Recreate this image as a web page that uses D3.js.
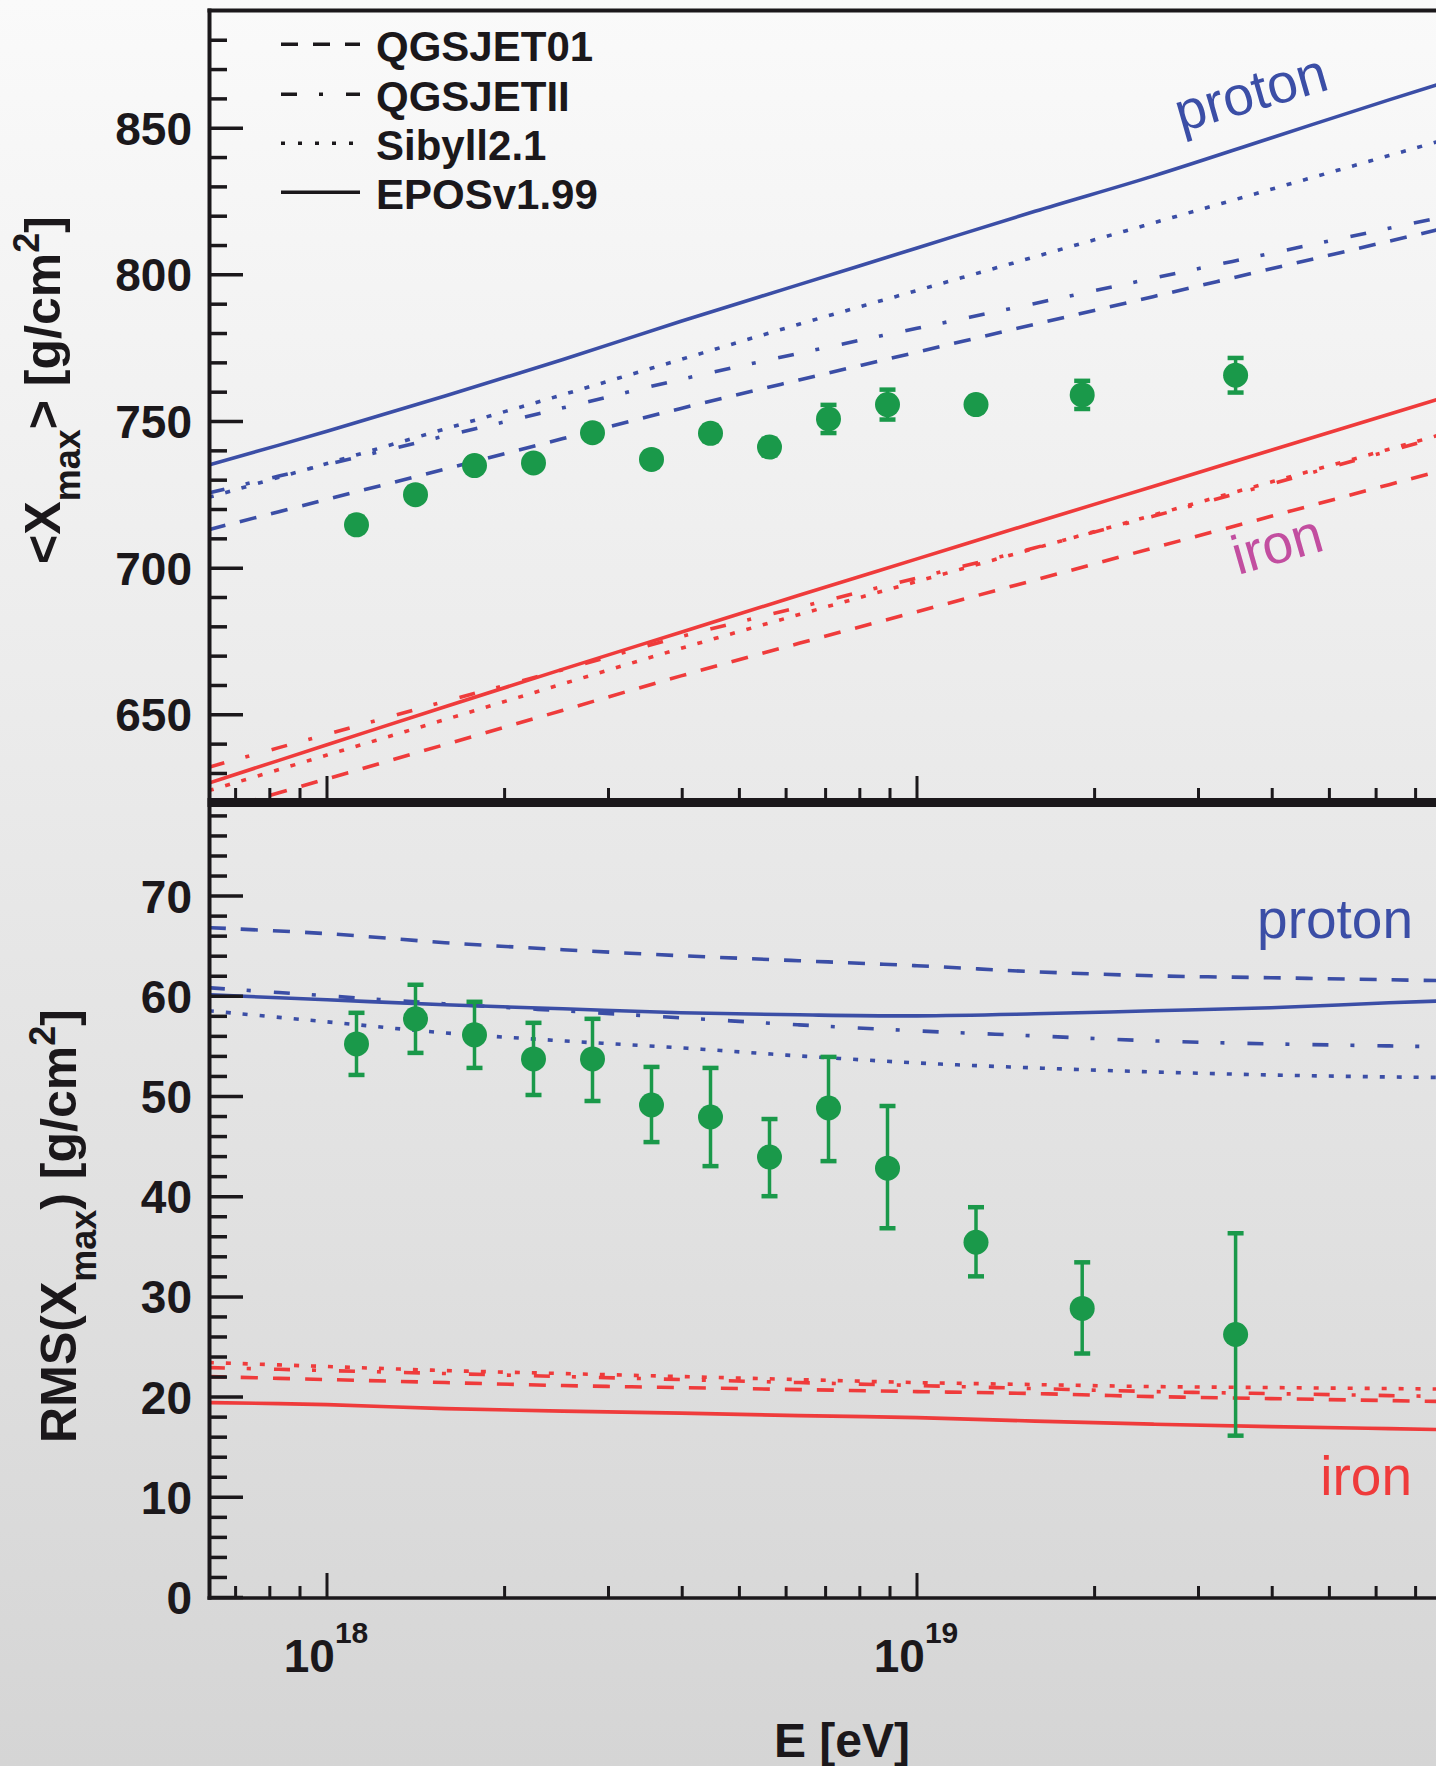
<!DOCTYPE html>
<html><head><meta charset="utf-8">
<script src="https://cdn.jsdelivr.net/npm/d3@7"></script>
<style>html,body{margin:0;padding:0;background:#e6e6e6;} svg{display:block;}</style>
</head><body>
<svg id="chart" width="1436" height="1766"></svg>
<script>
// ---------- data ----------
const modelLogE = [17.8, 18.0, 18.2, 18.4, 18.6, 18.8, 19.0, 19.2, 19.4, 19.6, 19.8, 20.0];

// <Xmax> predictions [g/cm2]
const pXmaxQGSJET01 = [713.0, 723.3, 733.6, 744.0, 754.3, 764.0, 773.5, 783.0, 792.4, 801.9, 811.3, 820.8];
const pXmaxQGSJETII = [725.5, 735.2, 744.9, 754.5, 764.2, 773.1, 781.6, 790.1, 798.7, 807.2, 815.7, 824.2];
const pXmaxSibyll   = [724.0, 735.5, 747.3, 759.0, 771.0, 783.0, 794.5, 806.0, 817.5, 829.0, 840.5, 852.0];
const pXmaxEPOS     = [735.0, 746.5, 758.5, 771.0, 784.0, 796.5, 809.0, 821.5, 833.5, 846.5, 859.5, 872.0];
const feXmaxQGSJET01 = [616.3, 628.0, 639.7, 651.4, 663.1, 674.2, 685.0, 695.8, 706.7, 717.5, 728.3, 739.0];
const feXmaxQGSJETII = [632.0, 643.2, 654.4, 665.2, 676.5, 686.5, 696.5, 706.8, 717.5, 728.5, 739.8, 750.5];
const feXmaxSibyll   = [624.0, 636.1, 648.2, 660.4, 672.5, 684.0, 695.3, 706.6, 717.9, 729.2, 740.4, 751.7];
const feXmaxEPOS     = [626.6, 639.6, 652.6, 665.4, 678.0, 690.6, 703.0, 715.4, 727.7, 740.0, 752.3, 764.6];

// RMS(Xmax) predictions [g/cm2]
const pRmsQGSJET01 = [66.8, 66.2, 65.3, 64.6, 64.0, 63.5, 63.0, 62.4, 62.0, 61.8, 61.6, 61.4];
const pRmsQGSJETII = [60.8, 60.0, 59.2, 58.5, 57.8, 57.1, 56.5, 56.0, 55.5, 55.2, 55.0, 54.8];
const pRmsSibyll   = [58.5, 57.4, 56.3, 55.5, 54.8, 54.0, 53.3, 52.8, 52.4, 52.1, 51.9, 51.8];
const pRmsEPOS     = [60.1, 59.6, 59.1, 58.7, 58.3, 58.1, 58.0, 58.2, 58.5, 58.8, 59.3, 59.7];
const feRmsQGSJET01 = [22.0, 21.7, 21.4, 21.1, 20.9, 20.7, 20.5, 20.3, 20.0, 19.8, 19.6, 19.4];
const feRmsQGSJETII = [22.9, 22.6, 22.3, 22.0, 21.7, 21.4, 21.1, 20.8, 20.5, 20.3, 20.1, 19.9];
const feRmsSibyll   = [23.4, 23.0, 22.6, 22.3, 22.0, 21.7, 21.4, 21.2, 21.0, 20.9, 20.8, 20.7];
const feRmsEPOS     = [19.4, 19.2, 18.8, 18.55, 18.35, 18.1, 17.9, 17.55, 17.25, 17.0, 16.8, 16.6];

// measured data
const dataLogE = [18.05, 18.15, 18.25, 18.35, 18.45, 18.55, 18.65, 18.75, 18.85, 18.95, 19.10, 19.28, 19.54];
const xmaxMean = [714.6, 724.9, 734.8, 735.7, 746.0, 736.9, 745.8, 741.1, 750.7, 755.6, 755.6, 758.9, 765.6];
const xmaxErr  = [2.6, 2.5, 2.4, 2.4, 2.5, 2.6, 2.7, 2.8, 4.8, 5.1, 2.6, 4.8, 5.9];
const rmsValue = [55.2, 57.7, 56.1, 53.7, 53.7, 49.1, 47.9, 43.9, 48.8, 42.8, 35.4, 28.8, 26.2];
const rmsHigh  = [58.3, 61.1, 59.4, 57.3, 57.7, 52.9, 52.8, 47.7, 53.9, 49.0, 38.9, 33.4, 36.3];
const rmsLow   = [52.1, 54.3, 52.8, 50.1, 49.5, 45.4, 43.0, 40.0, 43.5, 36.8, 32.0, 24.3, 16.1];

// ticks and labels
const legendLabels = ["QGSJET01", "QGSJETII", "Sibyll2.1", "EPOSv1.99"];
const yTopMajor = [650, 700, 750, 800, 850];
const yTopMinor = d3.range(630, 890, 10).filter(v => v % 50 !== 0);
const yBotMajor = [0, 10, 20, 30, 40, 50, 60, 70];
const yBotMinor = d3.range(2, 80, 2).filter(v => v % 10 !== 0);
const xMajor = [1e18, 1e19];
const xMajorExp = ["18", "19"];
const xMinor = [7e17, 8e17, 9e17, 2e18, 3e18, 4e18, 5e18, 6e18, 7e18, 8e18, 9e18, 2e19, 3e19, 4e19, 5e19, 6e19, 7e19, 8e19, 9e19];

// ---------- drawing ----------
const W = 1436, H = 1766;
const BLUE = "#3b4ea6", RED = "#ef3b3b", GREEN = "#1a994a", IRON = "#c24ea0", INK = "#1b181b";
const FONT = "'Liberation Sans', Arial, Helvetica, sans-serif";
const dashes = { QGSJET01: "17,15", QGSJETII: "16,22,4,23", Sibyll: "5,12", EPOS: null };

const svg = d3.select("#chart");
const defs = svg.append("defs");
const grad = defs.append("linearGradient").attr("id", "bg").attr("x1", 0).attr("y1", 0).attr("x2", 0).attr("y2", 1);
grad.append("stop").attr("offset", "0%").attr("stop-color", "#fafafa");
grad.append("stop").attr("offset", "100%").attr("stop-color", "#d5d5d5");
svg.append("rect").attr("width", W).attr("height", H).attr("fill", "url(#bg)");

defs.append("clipPath").attr("id", "clipTop").append("rect").attr("x", 211).attr("y", 12).attr("width", W - 211).attr("height", 786);
defs.append("clipPath").attr("id", "clipBot").append("rect").attr("x", 211).attr("y", 807).attr("width", W - 211).attr("height", 789);

const x = d3.scaleLog().domain([Math.pow(10, 17.8), 1e20]).range([209, 1507]);
const yT = d3.scaleLinear().domain([620, 890]).range([802.3, 10.4]);
const yB = d3.scaleLinear().domain([0, 79]).range([1597, 805.4]);

function drawModels(g, yScale, sets) {
  const line = d3.line().x(d => x(Math.pow(10, d[0]))).y(d => yScale(d[1])).curve(d3.curveCatmullRom.alpha(0.5));
  sets.forEach(s => {
    g.append("path").datum(modelLogE.map((l, i) => [l, s.vals[i]]))
      .attr("d", line).attr("fill", "none").attr("stroke", s.color)
      .attr("stroke-width", 3.6).attr("stroke-dasharray", s.dash).attr("stroke-linecap", "butt");
  });
}

// top panel curves
const gTop = svg.append("g").attr("clip-path", "url(#clipTop)");
drawModels(gTop, yT, [
  { vals: pXmaxQGSJET01, color: BLUE, dash: dashes.QGSJET01 },
  { vals: pXmaxQGSJETII, color: BLUE, dash: dashes.QGSJETII },
  { vals: pXmaxSibyll, color: BLUE, dash: dashes.Sibyll },
  { vals: pXmaxEPOS, color: BLUE, dash: dashes.EPOS },
  { vals: feXmaxQGSJET01, color: RED, dash: dashes.QGSJET01 },
  { vals: feXmaxQGSJETII, color: RED, dash: dashes.QGSJETII },
  { vals: feXmaxSibyll, color: RED, dash: dashes.Sibyll },
  { vals: feXmaxEPOS, color: RED, dash: dashes.EPOS }
]);

// bottom panel curves
const gBot = svg.append("g").attr("clip-path", "url(#clipBot)");
drawModels(gBot, yB, [
  { vals: pRmsQGSJET01, color: BLUE, dash: dashes.QGSJET01 },
  { vals: pRmsQGSJETII, color: BLUE, dash: dashes.QGSJETII },
  { vals: pRmsSibyll, color: BLUE, dash: dashes.Sibyll },
  { vals: pRmsEPOS, color: BLUE, dash: dashes.EPOS },
  { vals: feRmsQGSJET01, color: RED, dash: dashes.QGSJET01 },
  { vals: feRmsQGSJETII, color: RED, dash: dashes.QGSJETII },
  { vals: feRmsSibyll, color: RED, dash: dashes.Sibyll },
  { vals: feRmsEPOS, color: RED, dash: dashes.EPOS }
]);

// data points
function drawPoints(g, yScale, vals, lo, hi) {
  dataLogE.forEach((l, i) => {
    const cx = x(Math.pow(10, l));
    const y0 = yScale(lo[i]), y1 = yScale(hi[i]);
    g.append("line").attr("x1", cx).attr("x2", cx).attr("y1", y0).attr("y2", y1)
      .attr("stroke", GREEN).attr("stroke-width", 3.5);
    [y0, y1].forEach(yy => g.append("line").attr("x1", cx - 8).attr("x2", cx + 8).attr("y1", yy).attr("y2", yy)
      .attr("stroke", GREEN).attr("stroke-width", 4.5));
    g.append("circle").attr("cx", cx).attr("cy", yScale(vals[i])).attr("r", 12.5).attr("fill", GREEN);
  });
}
drawPoints(gTop, yT, xmaxMean, xmaxMean.map((v, i) => v - xmaxErr[i]), xmaxMean.map((v, i) => v + xmaxErr[i]));
drawPoints(gBot, yB, rmsValue, rmsLow, rmsHigh);

// y axes
function yAxis(scale, major, minor) {
  const gMaj = svg.append("g").attr("transform", "translate(209,0)")
    .call(d3.axisLeft(scale).tickValues(major).tickSize(-34).tickSizeOuter(0).tickPadding(17).tickFormat(d3.format("d")));
  gMaj.select(".domain").remove();
  gMaj.selectAll(".tick line").attr("stroke", INK).attr("stroke-width", 3.5);
  gMaj.selectAll(".tick text").attr("fill", INK).attr("font-family", FONT).attr("font-weight", "bold")
    .attr("font-size", 46).attr("dy", "0.36em");
  const gMin = svg.append("g").attr("transform", "translate(209,0)")
    .call(d3.axisLeft(scale).tickValues(minor).tickSize(-18).tickSizeOuter(0).tickFormat(""));
  gMin.select(".domain").remove();
  gMin.selectAll(".tick line").attr("stroke", INK).attr("stroke-width", 3.5);
}
yAxis(yT, yTopMajor, yTopMinor);
yAxis(yB, yBotMajor, yBotMinor);

// x ticks (inside, pointing up) for both panels
function xTicks(baseY, majLen, minLen) {
  const g = svg.append("g");
  xMinor.forEach(v => g.append("line").attr("x1", x(v)).attr("x2", x(v)).attr("y1", baseY).attr("y2", baseY - minLen)
    .attr("stroke", INK).attr("stroke-width", 3));
  xMajor.forEach(v => g.append("line").attr("x1", x(v)).attr("x2", x(v)).attr("y1", baseY).attr("y2", baseY - majLen)
    .attr("stroke", INK).attr("stroke-width", 3));
}
xTicks(798, 22, 10);
xTicks(1597, 24, 11);

// x tick labels 10^n
xMajor.forEach((v, i) => {
  const t = svg.append("text").attr("x", x(v) - 1).attr("y", 1672).attr("text-anchor", "middle")
    .attr("font-family", FONT).attr("font-weight", "bold").attr("fill", INK).attr("font-size", 46);
  t.append("tspan").text("10");
  t.append("tspan").attr("font-size", 30).attr("dy", -29).text(xMajorExp[i]);
});

// frame
svg.append("line").attr("x1", 207.5).attr("x2", W).attr("y1", 10.5).attr("y2", 10.5).attr("stroke", INK).attr("stroke-width", 4);
svg.append("rect").attr("x", 207.5).attr("y", 798).attr("width", W - 207.5).attr("height", 9).attr("fill", INK);
svg.append("line").attr("x1", 207.5).attr("x2", W).attr("y1", 1598).attr("y2", 1598).attr("stroke", INK).attr("stroke-width", 3.5);
svg.append("line").attr("x1", 209.5).attr("x2", 209.5).attr("y1", 8.5).attr("y2", 1599.7).attr("stroke", INK).attr("stroke-width", 4);

// axis titles
svg.append("text").attr("x", 910).attr("y", 1757).attr("text-anchor", "end")
  .attr("font-family", FONT).attr("font-weight", "bold").attr("font-size", 48).attr("fill", INK).text("E [eV]");

function yTitle(tx, ty, pre) {
  const t = svg.append("text").attr("transform", `translate(${tx},${ty}) rotate(-90)`).attr("text-anchor", "middle")
    .attr("font-family", FONT).attr("font-weight", "bold").attr("font-size", 50).attr("fill", INK);
  t.append("tspan").text(pre + "X");
  t.append("tspan").attr("font-size", 36).attr("dy", 20).text("max");
  t.append("tspan").attr("dy", -20).text((pre === "<" ? ">" : ")") + " [g/cm");
  t.append("tspan").attr("font-size", 36).attr("dy", -21).text("2");
  t.append("tspan").attr("dy", 21).text("]");
}
yTitle(60, 390, "<");
yTitle(76, 1226, "RMS(");

// legend
const legG = svg.append("g");
const legDash = [dashes.QGSJET01, dashes.QGSJETII, "4,13", null];
const legLineY = [44.3, 94.3, 143.3, 192.3];
legendLabels.forEach((lab, i) => {
  legG.append("line").attr("x1", 281).attr("x2", 360).attr("y1", legLineY[i]).attr("y2", legLineY[i])
    .attr("stroke", INK).attr("stroke-width", 3.5).attr("stroke-dasharray", legDash[i]);
  legG.append("text").attr("x", 376).attr("y", legLineY[i] + 17).attr("font-family", FONT).attr("font-weight", "bold")
    .attr("font-size", 42).attr("fill", INK).text(lab);
});

// composition labels
svg.append("text").attr("transform", "translate(1181,132) rotate(-16)").attr("font-family", FONT)
  .attr("font-size", 55).attr("fill", BLUE).text("proton");
svg.append("text").attr("transform", "translate(1238,575) rotate(-16)").attr("font-family", FONT)
  .attr("font-size", 55).attr("fill", IRON).text("iron");
svg.append("text").attr("x", 1413).attr("y", 938).attr("text-anchor", "end").attr("font-family", FONT)
  .attr("font-size", 55).attr("fill", BLUE).text("proton");
svg.append("text").attr("x", 1412).attr("y", 1495).attr("text-anchor", "end").attr("font-family", FONT)
  .attr("font-size", 55).attr("fill", RED).text("iron");
</script>
</body></html>
